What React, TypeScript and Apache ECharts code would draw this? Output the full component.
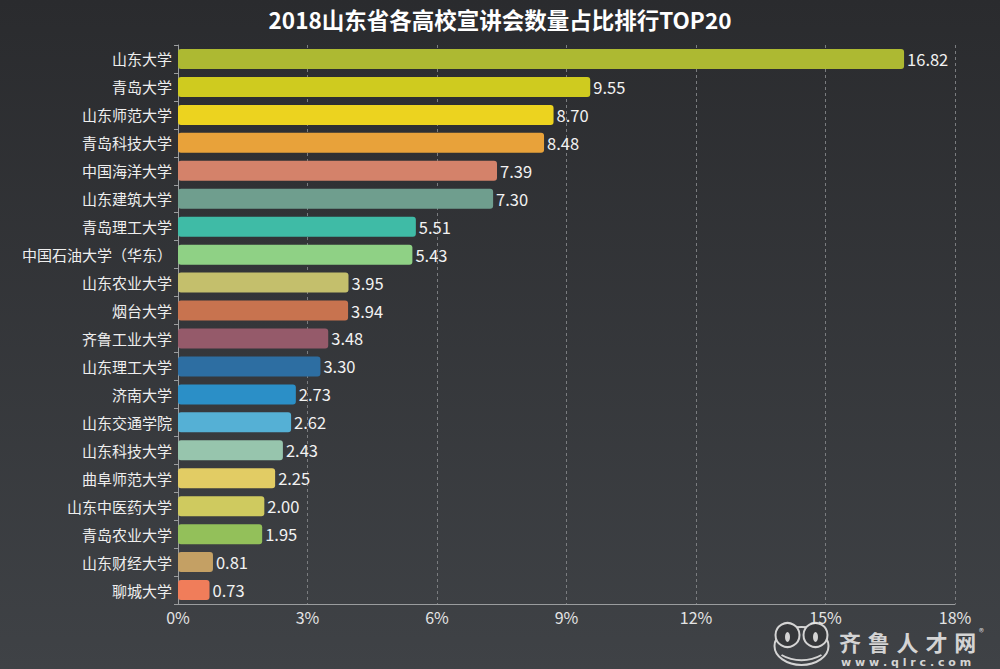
import React, { useEffect, useRef } from "react";
import * as echarts from "echarts";

const categories = [
  "山东大学", "青岛大学", "山东师范大学", "青岛科技大学", "中国海洋大学",
  "山东建筑大学", "青岛理工大学", "中国石油大学（华东）", "山东农业大学", "烟台大学",
  "齐鲁工业大学", "山东理工大学", "济南大学", "山东交通学院", "山东科技大学",
  "曲阜师范大学", "山东中医药大学", "青岛农业大学", "山东财经大学", "聊城大学",
];
const values = [16.82, 9.55, 8.7, 8.48, 7.39, 7.3, 5.51, 5.43, 3.95, 3.94, 3.48, 3.3, 2.73, 2.62, 2.43, 2.25, 2.0, 1.95, 0.81, 0.73];
const colors = [
  "#adb932", "#cfcb1f", "#ecd31f", "#e8a23a", "#d4826a",
  "#6f9e8e", "#3fbba6", "#8fd185", "#c4bf6c", "#c8734f",
  "#955a6a", "#2d6ea2", "#2b8fc7", "#55b0d5", "#97c5ad",
  "#e2cc64", "#cfca5f", "#93c05a", "#c4a064", "#f07d5a",
];
const xTicks = { min: 0, max: 18, interval: 3 };
const title = "2018山东省各高校宣讲会数量占比排行TOP20";
const logoChars = ["齐", "鲁", "人", "才", "网"];
const logoUrl = "w w w . q l r c . c o m";

const FONT = "'Noto Sans CJK SC', 'Noto Sans', sans-serif";

export default function App() {
  const ref = useRef<HTMLDivElement>(null);
  useEffect(() => {
    document.body.style.margin = "0";
    const chart = echarts.init(ref.current!, null, { renderer: "svg" });
    const logoColor = "#d4d4d4";
    chart.setOption({
      animation: false,
      backgroundColor: {
        type: "linear", x: 0, y: 0, x2: 0, y2: 1,
        colorStops: [
          { offset: 0, color: "#2a2b2e" },
          { offset: 1, color: "#3f4246" },
        ],
      },
      textStyle: { fontFamily: FONT },
      title: {
        text: title,
        left: "center",
        top: 3,
        textStyle: { color: "#ffffff", fontSize: 22.5, fontWeight: "bold", fontFamily: FONT },
      },
      grid: { left: 178, right: 45, top: 45, bottom: 65 },
      xAxis: {
        type: "value",
        min: xTicks.min,
        max: xTicks.max,
        interval: xTicks.interval,
        axisLine: { show: true, lineStyle: { color: "#9a9c9e", width: 1 } },
        axisTick: { show: false },
        axisLabel: { color: "#e4e4e4", fontSize: 16, lineHeight: 16, formatter: "{value}%", margin: 5 },
        splitLine: { show: true, lineStyle: { color: "#7a7c7f", type: [3, 3], width: 1 } },
      },
      yAxis: {
        type: "category",
        inverse: true,
        data: categories,
        axisLine: { show: true, lineStyle: { color: "#9a9c9e", width: 1 } },
        axisTick: { show: true, length: 4, lineStyle: { color: "#9a9c9e" } },
        axisLabel: { color: "#eeeeee", fontSize: 15, margin: 6 },
      },
      series: [
        {
          type: "bar",
          data: values.map((v, i) => ({ value: v, itemStyle: { color: colors[i] } })),
          barWidth: 20,
          itemStyle: { borderRadius: 3 },
          label: {
            show: true,
            position: "right",
            distance: 3,
            color: "#f2f2f2",
            fontSize: 16.5,
            formatter: (p: any) => p.value.toFixed(2),
          },
        },
      ],
      graphic: [
        {
          type: "group",
          left: 772,
          top: 622,
          children: [
            { type: "ellipse", shape: { cx: 28, cy: 24, rx: 27, ry: 19 }, style: { fill: "none", stroke: logoColor, lineWidth: 2 } },
            { type: "circle", shape: { cx: 14, cy: 13, r: 12 }, style: { fill: "#35373a", stroke: logoColor, lineWidth: 2 } },
            { type: "circle", shape: { cx: 42, cy: 13, r: 12 }, style: { fill: "#35373a", stroke: logoColor, lineWidth: 2 } },
            { type: "ellipse", shape: { cx: 14, cy: 15, rx: 2.5, ry: 5 }, style: { fill: logoColor } },
            { type: "ellipse", shape: { cx: 42, cy: 15, rx: 2.5, ry: 5 }, style: { fill: logoColor } },
            { type: "bezierCurve", shape: { x1: 8, y1: 33, x2: 48, y2: 33, cpx1: 20, cpy1: 40, cpx2: 36, cpy2: 40 }, style: { stroke: logoColor, lineWidth: 2, fill: "none" } },
          ],
        },
        ...logoChars.map((c, i) => ({
          type: "text",
          left: 839 + i * 28.8,
          top: 630,
          style: { text: c, fill: logoColor, fontSize: 22, lineHeight: 22, fontWeight: "bold", fontFamily: FONT },
        })),
        {
          type: "text",
          left: 841,
          top: 657,
          style: { text: logoUrl, fill: logoColor, fontSize: 11, lineHeight: 10, fontWeight: "bold", fontFamily: "'DejaVu Sans', sans-serif" },
        },
        {
          type: "text",
          left: 979,
          top: 626,
          style: { text: "®", fill: logoColor, fontSize: 10, lineHeight: 10, fontFamily: FONT },
        },
      ],
    });
    return () => chart.dispose();
  }, []);
  return <div ref={ref} style={{ width: 1000, height: 669 }} />;
}
